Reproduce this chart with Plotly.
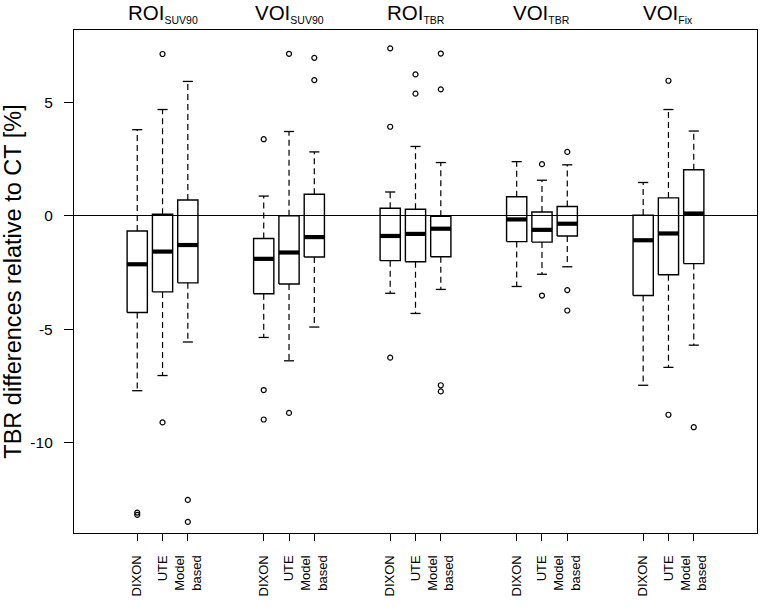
import plotly.graph_objects as go

# ---- data ----
groups = ["ROI<sub><span style='font-size:10.5px'>SUV90</span></sub>",
          "VOI<sub><span style='font-size:10.5px'>SUV90</span></sub>",
          "ROI<sub><span style='font-size:10.5px'>TBR</span></sub>",
          "VOI<sub><span style='font-size:10.5px'>TBR</span></sub>",
          "VOI<sub><span style='font-size:10.5px'>Fix</span></sub>"]
methods = ["DIXON", "UTE", "Model<br>based"]

upper_whisker = [[3.80, 4.69, 5.93], [0.87, 3.72, 2.82], [1.05, 3.06, 2.35], [2.39, 1.57, 2.25], [1.47, 4.69, 3.74]]
q3 = [[-0.67, 0.07, 0.70], [-1.00, 0.00, 0.95], [0.33, 0.29, -0.02], [0.84, 0.17, 0.41], [0.03, 0.79, 2.03]]
median = [[-2.14, -1.58, -1.29], [-1.90, -1.62, -0.94], [-0.89, -0.80, -0.57], [-0.16, -0.62, -0.35], [-1.08, -0.78, 0.10]]
q1 = [[-4.27, -3.36, -2.96], [-3.44, -3.01, -1.82], [-1.98, -2.03, -1.81], [-1.14, -1.16, -0.89], [-3.52, -2.60, -2.11]]
lower_whisker = [[-7.72, -7.05, -5.57], [-5.37, -6.40, -4.91], [-3.42, -4.31, -3.25], [-3.12, -2.58, -2.25], [-7.48, -6.69, -5.71]]
outliers = [
    [[-13.10, -13.20], [7.14, -9.12], [-12.54, -13.51]],
    [[3.38, -7.69, -8.99], [7.15, -8.70], [6.97, 5.99]],
    [[7.39, 3.93, -6.26], [6.24, 5.39], [7.16, 5.58, -7.48, -7.75]],
    [[], [2.28, -3.52], [2.82, -3.28, -4.18]],
    [[], [5.96, -8.78], [-9.33]],
]
y_ticks = [5, 0, -5, -10]
y_tick_labels = ["5", "0", "-5", "-10"]

# ---- geometry ----
GROUP_STEP = 5
HALF_BOX = 0.4
HALF_CAP = 0.2

box_x, box_y = [], []
med_x, med_y = [], []
wh_x, wh_y = [], []
cap_x, cap_y = [], []
out_x, out_y = [], []
tickvals, ticktext = [], []

for g in range(len(groups)):
    for m in range(len(methods)):
        xc = g * GROUP_STEP + m + 1
        tickvals.append(xc)
        ticktext.append(methods[m])
        lo, hi = q1[g][m], q3[g][m]
        box_x += [xc - HALF_BOX, xc + HALF_BOX, xc + HALF_BOX, xc - HALF_BOX, xc - HALF_BOX, None]
        box_y += [lo, lo, hi, hi, lo, None]
        med_x += [xc - HALF_BOX, xc + HALF_BOX, None]
        med_y += [median[g][m], median[g][m], None]
        wh_x += [xc, xc, None, xc, xc, None]
        wh_y += [hi, upper_whisker[g][m], None, lo, lower_whisker[g][m], None]
        for v in (upper_whisker[g][m], lower_whisker[g][m]):
            cap_x += [xc - HALF_CAP, xc + HALF_CAP, None]
            cap_y += [v, v, None]
        for v in outliers[g][m]:
            out_x.append(xc)
            out_y.append(v)

fig = go.Figure()
fig.add_trace(go.Scatter(x=wh_x, y=wh_y, mode="lines",
                         line=dict(color="black", width=1.2, dash="6px,4px"), hoverinfo="skip"))
fig.add_trace(go.Scatter(x=cap_x, y=cap_y, mode="lines",
                         line=dict(color="black", width=1.3), hoverinfo="skip"))
fig.add_trace(go.Scatter(x=box_x, y=box_y, mode="lines",
                         line=dict(color="black", width=1.4), hoverinfo="skip"))
fig.add_trace(go.Scatter(x=med_x, y=med_y, mode="lines",
                         line=dict(color="black", width=4.2), hoverinfo="skip"))
fig.add_trace(go.Scatter(x=out_x, y=out_y, mode="markers",
                         marker=dict(symbol="circle-open", size=5, color="black",
                                     line=dict(width=1.2, color="black")), hoverinfo="skip"))

for g, label in enumerate(groups):
    fig.add_annotation(x=g * GROUP_STEP + 2, xref="x", y=1, yref="paper",
                       yanchor="bottom", yshift=2, text=label, showarrow=False,
                       font=dict(size=20.5, color="black"))

font_family = "Arial, Liberation Sans, sans-serif"
fig.update_layout(
    width=762, height=607,
    margin=dict(l=74, r=5, t=30, b=74),
    plot_bgcolor="white", paper_bgcolor="white",
    showlegend=False,
    font=dict(family=font_family, color="black"),
    xaxis=dict(range=[-1.5, 25.5], tickvals=tickvals, ticktext=ticktext,
               tickangle=-90, ticks="outside", ticklen=7, tickwidth=1.3, tickcolor="black",
               showline=True, linecolor="black", linewidth=1.3, mirror=True,
               showgrid=False, zeroline=False, tickfont=dict(size=13),
               ticklabelstandoff=9, automargin=False),
    yaxis=dict(range=[-14.0, 8.2], tickvals=y_ticks, ticktext=y_tick_labels,
               ticks="outside", ticklen=9, tickwidth=1.3, tickcolor="black",
               showline=True, linecolor="black", linewidth=1.3, mirror=True,
               showgrid=False, zeroline=True, zerolinecolor="black", zerolinewidth=1.2,
               tickfont=dict(size=15.5), ticklabelstandoff=8, automargin=False,
               title=dict(text="TBR differences relative to CT [%]", font=dict(size=23.5), standoff=8)),
)

fig.write_html("out.html", config={"displayModeBar": False},
               post_script="document.body.style.margin='0px';")
